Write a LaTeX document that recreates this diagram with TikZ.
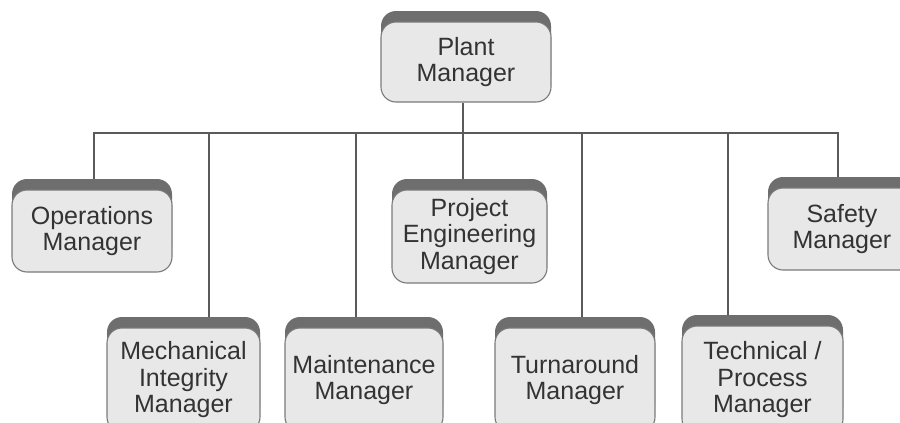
\documentclass[tikz,border=0pt]{standalone}
\usepackage{fontspec}
\setmainfont{Liberation Sans}
\usetikzlibrary{shadows,backgrounds}
\definecolor{boxfill}{HTML}{E8E8E8}
\definecolor{boxline}{HTML}{7A7A7A}
\definecolor{bandgray}{HTML}{6E6E6E}
\definecolor{txtgray}{HTML}{333333}
\definecolor{linkgray}{HTML}{5A5A5A}
\tikzset{
  orgbox/.style={draw=boxline, line width=1.1pt, fill=boxfill, rounded corners=15pt,
    inner sep=0pt, align=center, text=txtgray,
    font=\fontsize{25}{26.5}\selectfont,
    general shadow={fill=bandgray, shadow xshift=0pt, shadow yshift=11pt}},
  link/.style={draw=linkgray, line width=1.4pt}
}
\begin{document}
\begin{tikzpicture}[x=1pt,y=-1pt]
\clip (0,0) rectangle (900,423);
% top
\node[orgbox, minimum width=170pt, minimum height=80pt] (plant) at (466,62) {Plant\\Manager};
% middle row
\node[orgbox, minimum width=160pt, minimum height=82pt] (ops) at (92,231) {Operations\\Manager};
\node[orgbox, minimum width=155pt, minimum height=93pt] (proj) at (469.5,236.5) {Project\\Engineering\\Manager};
\node[orgbox, minimum width=148pt, minimum height=82pt] (safe) at (842,229) {Safety\\Manager};
% bottom row
\node[orgbox, minimum width=153pt, minimum height=104pt] (mech) at (183.5,380) {Mechanical\\Integrity\\Manager};
\node[orgbox, minimum width=158pt, minimum height=104pt] (maint) at (364,380) {Maintenance\\Manager};
\node[orgbox, minimum width=160pt, minimum height=104pt] (turn) at (575,380) {Turnaround\\Manager};
\node[orgbox, minimum width=161pt, minimum height=108pt] (tech) at (762.5,380) {Technical /\\Process\\Manager};
% connectors
\coordinate (bL) at (94,133);
\coordinate (bR) at (838,133);
\coordinate (bP) at (463,133);
\coordinate (bM) at (209,133);
\coordinate (bN) at (356,133);
\coordinate (bT) at (582,133);
\coordinate (bX) at (728,133);
\begin{scope}[on background layer]
\draw[link] (bL |- ops.north) -- (bL) -- (bR) -- (bR |- safe.north);
\draw[link] (bP |- plant.south) -- (bP) -- (bP |- proj.north);
\draw[link] (bM) -- (bM |- mech.north);
\draw[link] (bN) -- (bN |- maint.north);
\draw[link] (bT) -- (bT |- turn.north);
\draw[link] (bX) -- (bX |- tech.north);
\end{scope}
\end{tikzpicture}
\end{document}
